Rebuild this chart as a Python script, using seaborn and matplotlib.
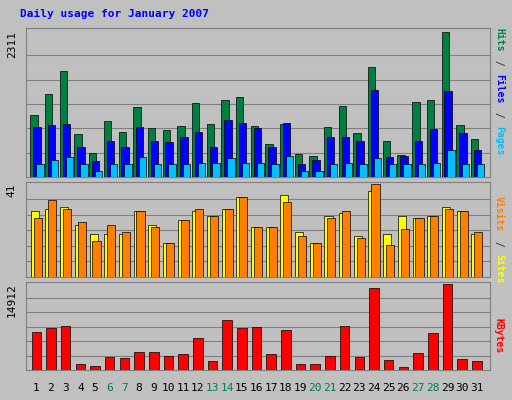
import matplotlib
matplotlib.use("Agg")
import matplotlib.pyplot as plt
import seaborn as sns
import numpy as np
import pandas as pd

days = list(range(1, 32))
hits = [984, 1312, 1671, 687, 375, 890, 718, 1109, 781, 749, 812, 1171, 843, 1218, 1265, 812, 515, 843, 359, 328, 796, 1124, 703, 1734, 562, 343, 1187, 1218, 2295, 828, 609]
files = [796, 828, 843, 468, 250, 562, 468, 796, 562, 546, 640, 718, 468, 906, 859, 781, 468, 859, 203, 265, 625, 625, 562, 1374, 312, 328, 562, 765, 1359, 703, 421]
pages = [203, 265, 312, 203, 94, 203, 203, 312, 203, 203, 203, 218, 218, 296, 218, 218, 203, 328, 94, 94, 203, 218, 203, 296, 203, 203, 203, 218, 422, 203, 203]
visits = [26, 34, 30, 24, 16, 23, 20, 29, 22, 15, 25, 30, 27, 30, 35, 22, 22, 33, 18, 15, 26, 29, 17, 41, 14, 21, 26, 27, 30, 29, 20]
sites = [29, 30, 31, 23, 19, 19, 19, 29, 23, 15, 25, 29, 27, 30, 35, 22, 22, 36, 20, 15, 27, 28, 18, 38, 19, 27, 26, 27, 31, 29, 19]
kbytes = [6588, 7282, 7629, 1040, 694, 2254, 2081, 3121, 3121, 2428, 2774, 5548, 1560, 8668, 7282, 7455, 2774, 6935, 1040, 1040, 2428, 7629, 2254, 14218, 1734, 520, 2947, 6415, 14912, 1907, 1560]
weekend = {6, 7, 13, 14, 20, 21, 27, 28}

sns.set_style("white")
plt.rcParams['font.family'] = ['DejaVu Sans Mono', 'DejaVu Sans']
W, H = 512, 400
fig = plt.figure(figsize=(5.12, 4), dpi=100, facecolor="#C0C0C0")
GRAY = "#C0C0C0"

def axrect(x0, y0, x1, y1):
    return fig.add_axes([x0 / W, 1 - y1 / H, (x1 - x0) / W, (y1 - y0) / H])

x = np.array(days, dtype=float)
panels = [(28, 177, 2311), (182, 277, 41), (282, 370, 14912)]
axes = []
for (y0, y1, top) in panels:
    ax = axrect(26, y0, 490, y1)
    ax.set_facecolor(GRAY)
    ax.set_xlim(0.3, 31.9)
    ax.set_ylim(0, top * 1.02)
    ax.set_xticks([]); ax.set_yticks([])
    for g in np.linspace(0, top, 7)[1:-1]:
        ax.axhline(g, color="#808080", lw=0.8, zorder=0)
    for s in ax.spines.values():
        s.set_color("#808080")
    ax.text(-0.02, 1.0 / 1.02, str(top), transform=ax.transAxes, rotation=90,
            ha="right", va="top", fontsize=8, color="black")
    axes.append(ax)

a1, a2, a3 = axes
kw = dict(edgecolor="black", linewidth=0.5, zorder=3)
a1.bar(x - 0.15, hits, width=0.5, color="#008040", **kw)
a1.bar(x + 0.05, files, width=0.5, color="#0000FF", **kw)
a1.bar(x + 0.25, pages, width=0.5, color="#00C0FF", **kw)
a2.bar(x - 0.1, sites, width=0.55, color="#FFFF00", **kw)
a2.bar(x + 0.1, visits, width=0.55, color="#FF8000", **kw)
df = pd.DataFrame({"day": x, "kb": kbytes})
sns.barplot(data=df, x="day", y="kb", native_scale=True, color="#FF0000",
            width=0.65, saturation=1, edgecolor="black", linewidth=0.5, ax=a3, zorder=3)
a3.set_xlabel(""); a3.set_ylabel("")
a3.set_xticks([]); a3.set_yticks([])
a3.set_xlim(0.3, 31.9)

for d in days:
    a3.text(d, -0.2, str(d), transform=a3.get_xaxis_transform(), ha="center", va="center",
            fontsize=8, color="#008040" if d in weekend else "black")

fig.text(20 / W, 1 - 14 / H, "Daily usage for January 2007", color="#0000FF",
         fontsize=8, fontweight="bold", ha="left", va="center")

def rlabel(parts, ytop):
    y = ytop
    for txt, col in parts:
        fig.text(499 / W, 1 - y / H, txt, rotation=270, color=col, fontsize=7,
                 fontweight="bold", ha="center", va="top")
        y += len(txt) * 6.5
rlabel([("Hits", "#008040"), (" / ", "#404040"), ("Files", "#0000FF"), (" / ", "#404040"), ("Pages", "#00C0FF")], 28)
rlabel([("Visits", "#FF8000"), (" / ", "#404040"), ("Sites", "#FFFF00")], 196)
rlabel([("KBytes", "#FF0000")], 318)

fig.savefig("out.png", dpi=100, facecolor=fig.get_facecolor())
